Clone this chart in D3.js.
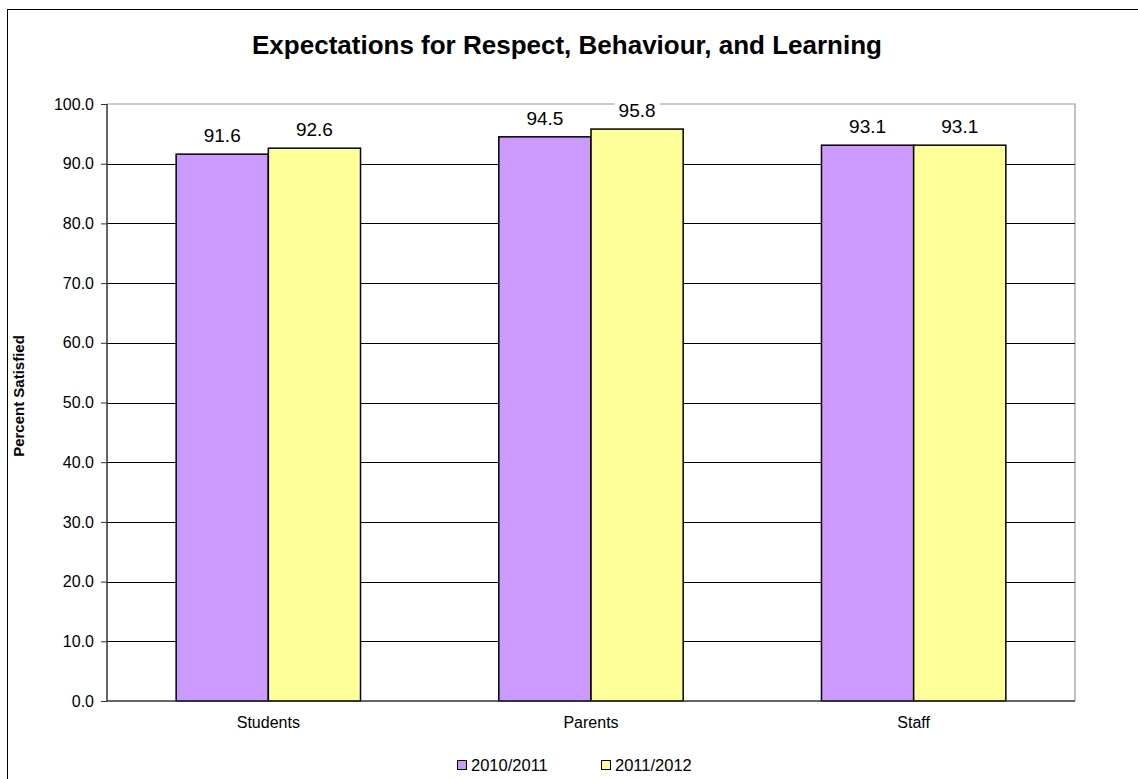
<!DOCTYPE html>
<html><head><meta charset="utf-8">
<script src="https://cdn.jsdelivr.net/npm/d3@7"></script>
<style>body{margin:0;background:#fff;font-family:Arial,"Liberation Sans",sans-serif}</style>
</head><body>
<svg id="c" width="1138" height="779"></svg>
<script>
const categories = ["Students", "Parents", "Staff"];
const seriesNames = ["2010/2011", "2011/2012"];
const values2010 = [91.6, 94.5, 93.1];
const values2011 = [92.6, 95.8, 93.1];
const yTicks = [0,10,20,30,40,50,60,70,80,90,100];
const colors = ["#CC99FF", "#FFFF99"];

const svg = d3.select("#c");
const font = "Arial, 'Liberation Sans', sans-serif";
// outer frame
svg.append("rect").attr("x",7.5).attr("y",9.5).attr("width",1140).attr("height",780)
  .attr("fill","#fff").attr("stroke","#000").attr("stroke-width",1);

const L=107, R=1075, T=104, B=701;
const x0 = d3.scaleBand().domain(categories).range([L,R]).paddingInner(0).paddingOuter(0);
const y = d3.scaleLinear().domain([0,100]).range([B,T]);
const barW = x0.bandwidth()/3.5;

// plot border (gray)
svg.append("path").attr("d",`M${L},${T}H${R}V${B}`).attr("fill","none").attr("stroke","#999").attr("stroke-width",1.2);
// gridlines
svg.append("g").selectAll("line").data(yTicks.filter(t=>t>0&&t<100)).join("line")
  .attr("x1",L).attr("x2",R).attr("y1",d=>Math.round(y(d))+0.5).attr("y2",d=>Math.round(y(d))+0.5)
  .attr("stroke","#000").attr("stroke-width",1);

// bars
const data = categories.map((c,i)=>({c, v:[values2010[i], values2011[i]]}));
const g = svg.append("g");
data.forEach(d=>{
  const cx = x0(d.c)+x0.bandwidth()/2;
  d.v.forEach((v,j)=>{
    const bx = cx - barW + j*barW;
    g.append("rect").attr("x",bx).attr("y",y(v)).attr("width",barW).attr("height",B-y(v))
      .attr("fill",colors[j]).attr("stroke","#000").attr("stroke-width",1.5);
  });
});

// axes
const yAxis = d3.axisLeft(y).tickValues(yTicks).tickFormat(d3.format(".1f")).tickSize(6).tickPadding(7);
const ya = svg.append("g").attr("transform",`translate(${L},0)`).call(yAxis);
ya.select(".domain").attr("stroke","#333").attr("stroke-width",1.5).attr("d",`M0,${T}V${B}`);
ya.selectAll(".tick line").attr("stroke","#333");
ya.selectAll("text").attr("font-family",font).attr("font-size",16).attr("fill","#000");

const xAxis = d3.axisBottom(x0).tickSize(0).tickPadding(16);
const xa = svg.append("g").attr("transform",`translate(0,${B})`).call(xAxis);
xa.select(".domain").attr("stroke","#333").attr("stroke-width",1.5).attr("d",`M${L},0H${R}`);
xa.selectAll("text").attr("font-family",font).attr("font-size",16).attr("fill","#000");

// value labels with white background
data.forEach(d=>{
  const cx = x0(d.c)+x0.bandwidth()/2;
  d.v.forEach((v,j)=>{
    const tx = cx - barW/2 + j*barW;
    const ty = y(v) - 12;
    const t = svg.append("text").attr("x",tx).attr("y",ty).attr("text-anchor","middle")
      .attr("font-family",font).attr("font-size",19).text(v.toFixed(1));
    const bb = t.node().getBBox();
    svg.insert("rect", () => t.node()).attr("x",bb.x-4).attr("y",bb.y).attr("width",bb.width+8).attr("height",bb.height).attr("fill","#fff");
  });
});

// title
svg.append("text").attr("x",567).attr("y",54).attr("text-anchor","middle")
  .attr("font-family",font).attr("font-size",26).attr("font-weight","bold").text("Expectations for Respect, Behaviour, and Learning");
// y title
svg.append("text").attr("transform",`translate(24,396) rotate(-90)`).attr("text-anchor","middle")
  .attr("font-family",font).attr("font-size",15).attr("font-weight","bold").text("Percent Satisfied");

// legend
const lx = [457, 601];
seriesNames.forEach((s,i)=>{
  svg.append("rect").attr("x",lx[i]+0.5).attr("y",760.5).attr("width",9).attr("height",9)
    .attr("fill",colors[i]).attr("stroke","#000").attr("stroke-width",1);
  svg.append("text").attr("x",lx[i]+14).attr("y",771).attr("font-family",font).attr("font-size",16.5).text(s);
});
</script>
</body></html>
